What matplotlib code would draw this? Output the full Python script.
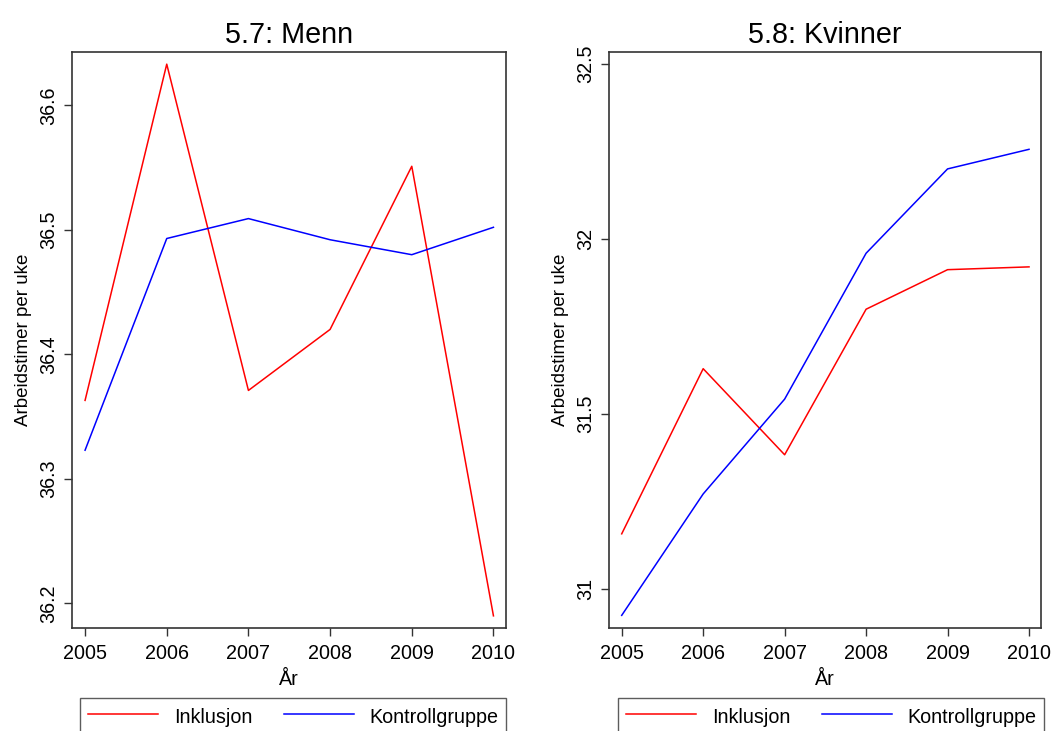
import numpy as np
import matplotlib.pyplot as plt

plt.rcParams['font.family'] = ['Liberation Sans', 'DejaVu Sans']

# Data
years = [2005, 2006, 2007, 2008, 2009, 2010]

menn_inklusjon = [36.363, 36.633, 36.371, 36.420, 36.551, 36.190]
menn_kontroll = [36.323, 36.493, 36.509, 36.492, 36.480, 36.502]

kvinner_inklusjon = [31.157, 31.629, 31.383, 31.799, 31.912, 31.920]
kvinner_kontroll = [30.924, 31.271, 31.542, 31.959, 32.200, 32.256]

menn_yticks = [36.2, 36.3, 36.4, 36.5, 36.6]
kvinner_yticks = [31, 31.5, 32, 32.5]
kvinner_yticklabels = ['31', '31.5', '32', '32.5']

W, H = 1061, 731
fig = plt.figure(figsize=(W / 100, H / 100), dpi=100)

top, bot = 51.7, 628.3
ax1 = fig.add_axes([72 / W, 1 - bot / H, (505.7 - 72) / W, (bot - top) / H])
ax2 = fig.add_axes([609 / W, 1 - bot / H, (1041 - 609) / W, (bot - top) / H])

panels = [
    (ax1, menn_inklusjon, menn_kontroll, '5.7: Menn', menn_yticks,
     [f'{v:.1f}' for v in menn_yticks], (36.18, 36.643), (2004.84, 2010.15), 80),
    (ax2, kvinner_inklusjon, kvinner_kontroll, '5.8: Kvinner', kvinner_yticks,
     kvinner_yticklabels, (30.887, 32.535), (2004.844, 2010.147), 618),
]

fs = 14.2
for ax, inkl, kontr, title, yt, ytl, ylim, xlim, legx in panels:
    ax.plot(years, inkl, color='#ff0000', lw=1.1, label='Inklusjon')
    ax.plot(years, kontr, color='#0000ff', lw=1.1, label='Kontrollgruppe')
    ax.set_xlim(*xlim)
    ax.set_ylim(*ylim)
    ax.set_xticks(years)
    ax.set_yticks(yt)
    ax.set_yticklabels(ytl, rotation=90, va='center')
    ax.tick_params(axis='both', direction='out', length=6, width=1.0,
                   labelsize=fs, color='#333333')
    ax.tick_params(axis='y', pad=4)
    ax.tick_params(axis='x', pad=5)
    for sp in ax.spines.values():
        sp.set_linewidth(1.2)
        sp.set_color('#333333')
    ax.set_title(title, fontsize=20.7, pad=6)
    ax.set_xlabel('År', fontsize=fs, labelpad=5)
    ax.set_ylabel('Arbeidstimer per uke', fontsize=13.5, labelpad=5)
    leg = ax.legend(loc='upper left', ncol=2, frameon=True, fancybox=False,
                    edgecolor='#333333', fontsize=fs, handlelength=3.55,
                    handleheight=1.36, columnspacing=1.6, borderpad=0.4,
                    handletextpad=0.8,
                    bbox_to_anchor=(legx / W, 1 - 697.7 / H),
                    bbox_transform=fig.transFigure, borderaxespad=0)
    leg.get_frame().set_linewidth(1.0)

fig.savefig('out.png', dpi=100)
